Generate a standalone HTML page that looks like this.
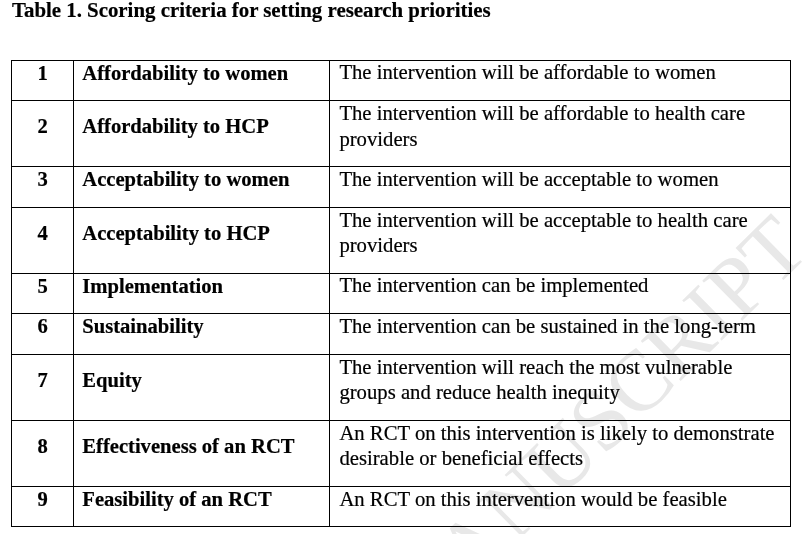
<!DOCTYPE html>
<html><head><meta charset="utf-8"><style>
html,body{margin:0;padding:0;background:#fff}
body{width:804px;height:534px;overflow:hidden;position:relative;font-family:"Liberation Serif","Times New Roman",serif;color:#000}
.t{position:absolute;white-space:nowrap;-webkit-text-stroke:0.2px #000;font-size:20.6px;line-height:20px}
.b{font-weight:bold}
.n{text-align:center;width:62px;left:11.6px}
.h{position:absolute;left:11px;width:780px;height:1px;background:#000}
.v{position:absolute;top:60px;height:467px;width:1px;background:#000}
.wm{position:absolute;left:0;top:0}
</style></head><body>
<svg class="wm" width="804" height="534" viewBox="0 0 804 534"><text x="0" y="0" transform="translate(811.5 252.4) rotate(-44.5)" text-anchor="end" font-family="'Liberation Serif', serif" font-size="86" fill="#e8e8e8">ACCEPTED MANUSCRIPT</text></svg>

<div class="t b" style="left:12px;top:0px;font-size:20.85px">Table 1. Scoring criteria for setting research priorities</div>
<div class="h" style="top:60px"></div><div class="h" style="top:100px"></div><div class="h" style="top:166px"></div><div class="h" style="top:207px"></div><div class="h" style="top:273px"></div><div class="h" style="top:313px"></div><div class="h" style="top:354px"></div><div class="h" style="top:420px"></div><div class="h" style="top:486px"></div><div class="h" style="top:526px"></div>
<div class="v" style="left:11px"></div><div class="v" style="left:73px"></div><div class="v" style="left:329px"></div><div class="v" style="left:790px"></div>
<div class="t b n" style="top:63px">1</div><div class="t b" style="left:82.3px;top:63px">Affordability to women</div><div class="t" style="left:339.4px;top:62px;font-size:20.7px">The intervention will be affordable to women</div>
<div class="t b n" style="top:116px">2</div><div class="t b" style="left:82.3px;top:116px">Affordability to HCP</div><div class="t" style="left:339.4px;top:103px;font-size:20.7px">The intervention will be affordable to health care</div><div class="t" style="left:339.4px;top:129px;font-size:20.7px">providers</div>
<div class="t b n" style="top:169px">3</div><div class="t b" style="left:82.3px;top:169px">Acceptability to women</div><div class="t" style="left:339.4px;top:169px;font-size:20.7px">The intervention will be acceptable to women</div>
<div class="t b n" style="top:223px">4</div><div class="t b" style="left:82.3px;top:223px">Acceptability to HCP</div><div class="t" style="left:339.4px;top:210px;font-size:20.7px">The intervention will be acceptable to health care</div><div class="t" style="left:339.4px;top:235px;font-size:20.7px">providers</div>
<div class="t b n" style="top:276px">5</div><div class="t b" style="left:82.3px;top:276px">Implementation</div><div class="t" style="left:339.4px;top:275px;font-size:20.7px">The intervention can be implemented</div>
<div class="t b n" style="top:316px">6</div><div class="t b" style="left:82.3px;top:316px">Sustainability</div><div class="t" style="left:339.4px;top:316px;font-size:20.7px">The intervention can be sustained in the long-term</div>
<div class="t b n" style="top:370px">7</div><div class="t b" style="left:82.3px;top:370px">Equity</div><div class="t" style="left:339.4px;top:357px;font-size:20.7px">The intervention will reach the most vulnerable</div><div class="t" style="left:339.4px;top:382px;font-size:20.7px">groups and reduce health inequity</div>
<div class="t b n" style="top:436px">8</div><div class="t b" style="left:82.3px;top:436px">Effectiveness of an RCT</div><div class="t" style="left:339.4px;top:423px;font-size:20.7px">An RCT on this intervention is likely to demonstrate</div><div class="t" style="left:339.4px;top:448px;font-size:20.7px">desirable or beneficial effects</div>
<div class="t b n" style="top:489px">9</div><div class="t b" style="left:82.3px;top:489px">Feasibility of an RCT</div><div class="t" style="left:339.4px;top:489px;font-size:20.7px">An RCT on this intervention would be feasible</div>
</body></html>
